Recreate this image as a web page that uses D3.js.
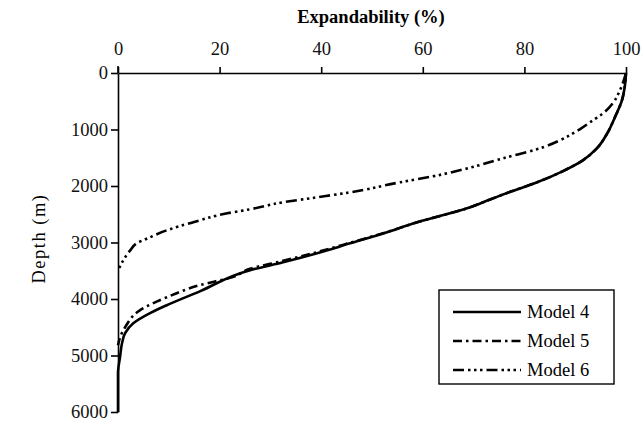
<!DOCTYPE html>
<html>
<head>
<meta charset="utf-8">
<script src="https://cdn.jsdelivr.net/npm/d3@7"></script>
<style>
	body { margin: 0; background: #fff; }
	svg { display: block; font-family: 'Liberation Serif', 'Times New Roman', serif; }
	.axis { font-family: 'Liberation Serif', 'Times New Roman', serif; }
	.axis path, .axis line { stroke: #000; stroke-width: 1.6; }
	.axis text { font-size: 18.5px; fill: #111; }
	.curve { fill: none; stroke: #000; stroke-width: 2.6; stroke-linecap: butt; }
</style>
</head>
<body>
<svg id="chart"></svg>
<script>
// data: [expandability %, depth m]
const model4 = [
	[100, 0], [99.8, 215], [99.2, 485], [97.8, 786], [96.3, 1069], [94.3, 1330],
	[91.5, 1545], [87.5, 1740], [82.5, 1935], [77.5, 2094], [73.5, 2230], [68.7, 2395],
	[58.9, 2642], [52.2, 2840], [45.7, 3015], [39.2, 3190], [32.5, 3350], [26.0, 3490],
	[16.1, 3865], [9.6, 4110], [6.3, 4250], [3.0, 4430], [1.4, 4605], [0.8, 4780],
	[0.4, 5030], [0, 5310], [0, 6000],
]
const model5 = [
	[100, 0], [99.8, 215], [99.2, 485], [97.8, 786], [96.3, 1069], [94.3, 1330],
	[91.5, 1545], [87.5, 1740], [82.5, 1935], [77.5, 2094], [73.5, 2230], [68.7, 2395],
	[58.9, 2642], [52.2, 2835], [45.7, 3005], [39.2, 3170], [32.5, 3325], [26.0, 3465],
	[22.6, 3610], [16.1, 3755], [9.6, 3970], [4.3, 4200], [1.4, 4500], [0.4, 4680], [0, 4820],
]
const model6 = [
	[100, 0], [98.8, 306], [97.4, 536], [95.5, 713], [93.5, 837], [90.9, 996],
	[87.0, 1191], [83.7, 1315], [75.8, 1510], [68.7, 1690], [62.0, 1829], [55.5, 1935],
	[45.7, 2112], [39.2, 2200], [32.5, 2288], [26.0, 2412], [21.5, 2483], [14.8, 2642],
	[9.6, 2784], [6.3, 2908], [3.7, 3014], [2.4, 3138], [1.4, 3262], [0.4, 3421], [0, 3492],
]
const xTicks = [0, 20, 40, 60, 80, 100]
const yTicks = [0, 1000, 2000, 3000, 4000, 5000, 6000]
const seriesNames = ['Model 4', 'Model 5', 'Model 6']
const dashes = ['none', '9,4,2.5,4', '11,4,2.5,3.5,2.5,3.5,2.5,4']

const outerWidth = 643
const outerHeight = 422
const margin = { top: 73, right: 17, bottom: 10, left: 118 }
const width = outerWidth - margin.left - margin.right
const height = 339

const svg = d3.select('#chart')
	.attr('width', outerWidth)
	.attr('height', outerHeight)
.append('g')
	.attr('transform', `translate(${margin.left}, ${margin.top})`)

const x = d3.scaleLinear().domain([0, 100]).range([0, width])
const y = d3.scaleLinear().domain([0, 6000]).range([0, height])

svg.append('g')
	.attr('class', 'axis axis--x')
	.call(d3.axisTop(x).tickValues(xTicks).tickSize(6).tickSizeOuter(0).tickPadding(12))

svg.append('g')
	.attr('class', 'axis axis--y')
	.call(d3.axisLeft(y).tickValues(yTicks).tickFormat(d3.format('d')).tickSize(7).tickSizeOuter(0).tickPadding(3))

// left axis pokes a bit above the top axis
svg.append('line')
	.attr('x1', x(0)).attr('x2', x(0))
	.attr('y1', -7).attr('y2', 0)
	.attr('stroke', '#000').attr('stroke-width', 1.6)

svg.append('text')
	.attr('x', width / 2 - 1)
	.attr('y', -50)
	.attr('text-anchor', 'middle')
	.style('font-size', '18.5px')
	.style('font-weight', 'bold')
	.text('Expandability (%)')

svg.append('text')
	.attr('transform', `translate(-73, ${height / 2 - 4}) rotate(-90)`)
	.attr('text-anchor', 'middle')
	.style('font-size', '18.5px')
	.style('letter-spacing', '1.5px')
	.text('Depth (m)')

const line = d3.line()
	.x(d => x(d[0]))
	.y(d => y(d[1]))
	.curve(d3.curveMonotoneY)

const series = [model4, model5, model6]
series.forEach((rows, i) => {
	svg.append('path')
		.datum(rows)
		.attr('class', 'curve')
		.attr('stroke-dasharray', dashes[i])
		.attr('d', line)
})

// legend
const legend = svg.append('g')
	.attr('transform', `translate(${439 - margin.left}, ${290 - margin.top})`)

legend.append('rect')
	.attr('width', 175)
	.attr('height', 94)
	.attr('fill', '#fff')
	.attr('stroke', '#000')
	.attr('stroke-width', 1.4)

seriesNames.forEach((name, i) => {
	const ly = 22 + i * 29
	legend.append('line')
		.attr('x1', 14).attr('x2', 82)
		.attr('y1', ly).attr('y2', ly)
		.attr('stroke', '#000')
		.attr('stroke-width', 2.4)
		.attr('stroke-dasharray', dashes[i])
	legend.append('text')
		.attr('x', 88)
		.attr('y', ly + 6)
		.style('font-size', '18.5px')
		.text(name)
})
</script>
</body>
</html>
